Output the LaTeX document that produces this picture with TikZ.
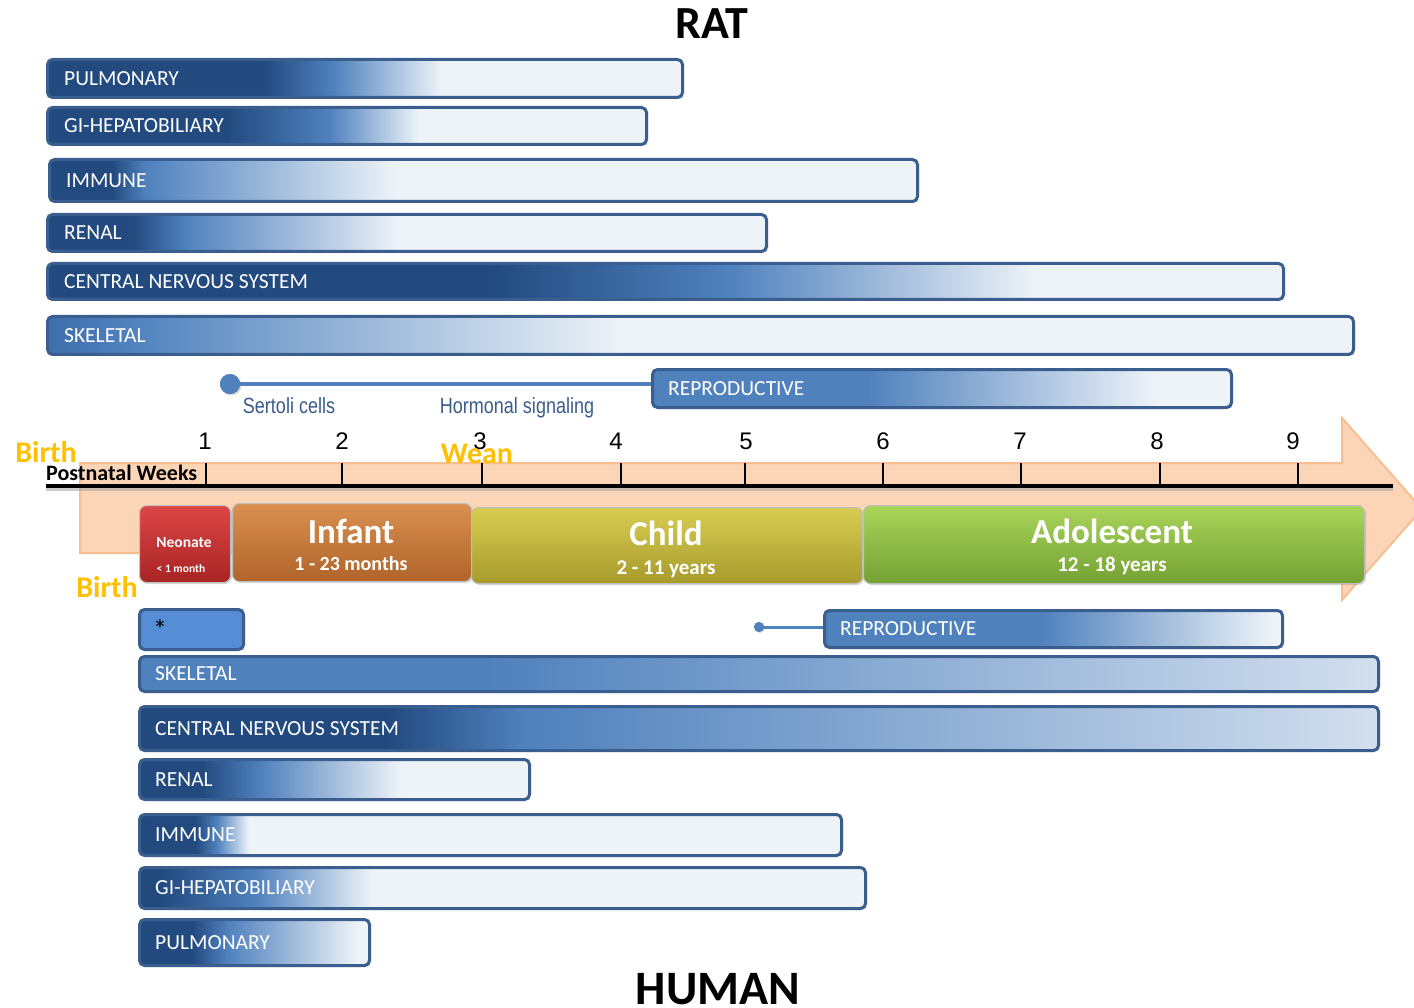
\documentclass[tikz,border=0pt]{standalone}
\usepackage{fontspec}
\setmainfont{Carlito}
\newfontfamily\arialf{Liberation Sans}
\newfontfamily\narrowf[FakeStretch=0.82]{Liberation Sans}
\usetikzlibrary{shadows,calc}
\definecolor{bdk}{HTML}{224A7F}
\definecolor{bmd}{HTML}{4F81BD}
\definecolor{blt}{HTML}{EEF3F8}
\definecolor{blt2}{HTML}{D3DFEE}
\definecolor{bsk}{HTML}{3E6DAA}
\definecolor{bbd}{HTML}{3A5F8F}
\definecolor{star}{HTML}{558ED5}
\definecolor{capt}{HTML}{3A5C8C}
\definecolor{birth}{HTML}{FFC000}
\definecolor{peach}{HTML}{FBD5B5}
\definecolor{peachbd}{HTML}{F8BE90}
\definecolor{neoTop}{HTML}{DC4646}
\definecolor{neoMid}{HTML}{C83030}
\definecolor{neoBot}{HTML}{A82424}
\definecolor{infTop}{HTML}{DA9050}
\definecolor{infMid}{HTML}{C87838}
\definecolor{infBot}{HTML}{B0642A}
\definecolor{chiTop}{HTML}{D8CD52}
\definecolor{chiMid}{HTML}{C1B53A}
\definecolor{chiBot}{HTML}{A69B2C}
\definecolor{adoTop}{HTML}{A9D55A}
\definecolor{adoMid}{HTML}{8EBD45}
\definecolor{adoBot}{HTML}{74A133}
% rat shadings
\pgfdeclarehorizontalshading{rPul}{100bp}{color(0bp)=(bdk); color(42bp)=(bdk); color(47.5bp)=(bmd); color(56bp)=(blt); color(100bp)=(blt)}
\pgfdeclarehorizontalshading{rGI}{100bp}{color(0bp)=(bdk); color(40bp)=(bdk); color(48.5bp)=(bmd); color(56bp)=(blt); color(100bp)=(blt)}
\pgfdeclarehorizontalshading{rImm}{100bp}{color(0bp)=(bdk); color(28.6bp)=(bdk); color(30.5bp)=(bmd); color(45bp)=(blt); color(100bp)=(blt)}
\pgfdeclarehorizontalshading{rRen}{100bp}{color(0bp)=(bdk); color(31bp)=(bdk); color(34.5bp)=(bmd); color(49.5bp)=(blt); color(100bp)=(blt)}
\pgfdeclarehorizontalshading{rCNS}{100bp}{color(0bp)=(bdk); color(43bp)=(bdk); color(52.5bp)=(bmd); color(65bp)=(blt); color(100bp)=(blt)}
\pgfdeclarehorizontalshading{rSkel}{100bp}{color(0bp)=(bsk); color(25bp)=(bsk); color(28bp)=(bmd); color(47bp)=(blt); color(100bp)=(blt)}
\pgfdeclarehorizontalshading{rRep}{100bp}{color(0bp)=(bmd); color(43.5bp)=(bmd); color(68.5bp)=(blt); color(100bp)=(blt)}
% human shadings
\pgfdeclarehorizontalshading{hRep}{100bp}{color(0bp)=(bmd); color(48.5bp)=(bmd); color(74bp)=(blt); color(100bp)=(blt)}
\pgfdeclarehorizontalshading{hSkel}{100bp}{color(0bp)=(bmd); color(39bp)=(bmd); color(75bp)=(blt2); color(100bp)=(blt2)}
\pgfdeclarehorizontalshading{hCNS}{100bp}{color(0bp)=(bdk); color(35bp)=(bdk); color(40.5bp)=(bmd); color(75bp)=(blt2); color(100bp)=(blt2)}
\pgfdeclarehorizontalshading{hRen}{100bp}{color(0bp)=(bdk); color(33bp)=(bdk); color(40.5bp)=(bmd); color(58.5bp)=(blt); color(100bp)=(blt)}
\pgfdeclarehorizontalshading{hImm}{100bp}{color(0bp)=(bdk); color(29bp)=(bdk); color(30.5bp)=(bmd); color(32.8bp)=(blt); color(100bp)=(blt)}
\pgfdeclarehorizontalshading{hGI}{100bp}{color(0bp)=(bdk); color(26.5bp)=(bdk); color(33bp)=(bmd); color(41bp)=(blt); color(100bp)=(blt)}
\pgfdeclarehorizontalshading{hPul}{100bp}{color(0bp)=(bdk); color(36.5bp)=(bdk); color(44bp)=(bmd); color(72.5bp)=(blt); color(100bp)=(blt)}
\tikzset{
  orgbase/.style={draw=bbd, line width=3pt, rounded corners=5pt, inner sep=0pt,
    drop shadow={shadow xshift=1.5pt, shadow yshift=-1.5pt, opacity=0.25}},
  orgbox/.style={orgbase, shade},
  barlbl/.style={text=white, font=\fontsize{21.5}{24}\selectfont, inner sep=0pt},
  conn/.style={draw=bmd, line width=3.5pt},
  capt/.style={text=capt, font=\narrowf\fontsize{22}{24}\selectfont, inner sep=0pt},
  num/.style={font=\arialf\fontsize{24}{26}\selectfont, inner sep=0pt},
  birthlbl/.style={text=birth, font=\bfseries\fontsize{30}{32}\selectfont, inner sep=0pt},
  stage/.style={rounded corners=7pt, inner sep=0pt, draw=white!75!black, line width=1pt,
    drop shadow={shadow xshift=1.5pt, shadow yshift=-1.5pt, opacity=0.3}},
  stagebig/.style={text=white, font=\bfseries\fontsize{35}{38}\selectfont, inner sep=0pt},
  stagesub/.style={text=white, font=\bfseries\fontsize{21}{23}\selectfont, inner sep=0pt},
  title/.style={font=\bfseries\fontsize{46}{50}\selectfont, inner sep=0pt},
  tickln/.style={line width=1.2pt, draw=black},
}
\newcommand\orgbar[8]{% name, shading, x1, y1, x2, y2, label, label shift
  \pgfmathsetmacro\obw{#5-#3}\pgfmathsetmacro\obh{#6-#4}
  \node[orgbox, shading=#2, minimum width=\obw, minimum height=\obh, anchor=north west] (#1) at (#3,#4) {};
  \node[barlbl, anchor=west] (#1-t) at ([xshift=#8pt]#1.west) {#7};}
\begin{document}
\begin{tikzpicture}[x=1pt,y=-1pt]
\useasboundingbox (0,0) rectangle (1414,1008);
% titles
\node[title] (rat) at (712,24) {RAT};
\node[title, font=\bfseries\fontsize{48}{50}\selectfont, anchor=base] (human) at (718,1004) {HUMAN};
% rat bars
\orgbar{rPulB}{rPul}{46}{58}{681}{96}{PULMONARY}{18}
\orgbar{rGIB}{rGI}{46}{106}{645}{143}{GI-HEPATOBILIARY}{18}
\orgbar{rImmB}{rImm}{48}{158}{916}{200}{IMMUNE}{18}
\orgbar{rRenB}{rRen}{46}{213}{765}{250}{RENAL}{18}
\orgbar{rCNSB}{rCNS}{46}{262}{1282}{298}{CENTRAL NERVOUS SYSTEM}{18}
\orgbar{rSkelB}{rSkel}{46}{315}{1352}{353}{SKELETAL}{18}
\orgbar{rRepB}{rRep}{651}{368}{1230}{406}{REPRODUCTIVE}{17}
\node[circle, fill=bmd, minimum size=20pt, inner sep=0pt,
  drop shadow={shadow xshift=1.5pt, shadow yshift=-1.5pt, opacity=0.3}] (rdot) at (230,384) {};
\draw[conn] (rdot.center) -- (rdot -| rRepB.west);
\node[circle, fill=bmd, minimum size=20pt, inner sep=0pt] at (rdot) {};
\node[capt, anchor=base] (sert) at (289,413) {Sertoli cells};
\node[capt, anchor=base] (horm) at (517,413) {Hormonal signaling};
% arrow
\draw[fill=peach, draw=peachbd, line width=2pt, line join=miter]
  (80,463) -- (1342,463) -- (1342,418) -- (1422,509) -- (1342,600) -- (1342,553) -- (80,553) -- cycle;
% axis
\coordinate (axL) at (46,486);
\coordinate (axR) at (1393,486);
\draw[line width=4pt, black!35, opacity=0.6] ([yshift=-3pt]axL) -- ([yshift=-3pt]axR);
\draw[line width=4pt, black] (axL) -- (axR);
\foreach \i/\x/\xn in {1/206/205, 2/342/342, 3/482/480, 4/621/616, 5/745/746, 6/883/883, 7/1021/1020, 8/1160/1157, 9/1298/1293}{
  \coordinate (t\i) at (\x,486);
  \draw[tickln] (t\i) -- ++(0,-23);
  \node[num, anchor=base] (n\i) at (\xn,449) {\i};
}
\node[font=\bfseries\fontsize{22}{24}\selectfont, inner sep=0pt, anchor=base west] (pnw) at (46,480) {Postnatal Weeks};
\node[birthlbl, anchor=base] (birth1) at (46,462) {Birth};
\node[birthlbl, anchor=base] (wean) at (477,463) {Wean};
\node[birthlbl, anchor=base] (birth2) at (107,597) {Birth};
% stages
\node[stage, top color=neoTop, middle color=neoMid, bottom color=neoBot,
  minimum width=91, minimum height=77, anchor=north west] (neo) at (139,505) {};
\node[stage, top color=infTop, middle color=infMid, bottom color=infBot,
  minimum width=239, minimum height=78, anchor=north west] (inf) at (232,503) {};
\node[stage, top color=chiTop, middle color=chiMid, bottom color=chiBot,
  minimum width=391, minimum height=76, anchor=north west] (chi) at (471,507) {};
\node[stage, top color=adoTop, middle color=adoMid, bottom color=adoBot,
  minimum width=501, minimum height=78, anchor=north west] (ado) at (863,505) {};
\node[text=white, font=\bfseries\fontsize{15.5}{17}\selectfont, inner sep=0pt, anchor=base] (neoT) at (184,547) {Neonate};
\node[text=white, font=\bfseries\fontsize{11.5}{13}\selectfont, inner sep=0pt, anchor=base] (neoS) at (181,572) {< 1 month};
\node[stagebig, anchor=base] (infT) at (351,543) {Infant};
\node[stagesub, font=\bfseries\fontsize{20}{22}\selectfont, anchor=base] (infS) at (351,570) {1 - 23 months};
\node[stagebig, anchor=base] (chiT) at (666,545) {Child};
\node[stagesub, anchor=base] (chiS) at (666,574) {2 - 11 years};
\node[stagebig, anchor=base] (adoT) at (1112,543) {Adolescent};
\node[stagesub, anchor=base] (adoS) at (1112,571) {12 - 18 years};
% human bars
\node[orgbase, fill=star, minimum width=104, minimum height=40, anchor=north west] (hStar) at (138,608) {};
\node[inner sep=0pt, font=\fontsize{28}{30}\selectfont] (hStarT) at (160,630) {*};
\orgbar{hRepB}{hRep}{823}{609}{1281}{646}{REPRODUCTIVE}{17}
\node[circle, fill=bmd, minimum size=10pt, inner sep=0pt,
  drop shadow={shadow xshift=1pt, shadow yshift=-1pt, opacity=0.3}] (hdot) at (759,627) {};
\draw[conn, line width=3pt] (hdot.center) -- (hdot -| hRepB.west);
\node[circle, fill=bmd, minimum size=10pt, inner sep=0pt] at (hdot) {};
\orgbar{hSkelB}{hSkel}{138}{655}{1377}{690}{SKELETAL}{17}
\orgbar{hCNSB}{hCNS}{138}{705}{1377}{749}{CENTRAL NERVOUS SYSTEM}{17}
\orgbar{hRenB}{hRen}{138}{758}{528}{798}{RENAL}{17}
\orgbar{hImmB}{hImm}{138}{813}{840}{854}{IMMUNE}{17}
\orgbar{hGIB}{hGI}{138}{866}{864}{907}{GI-HEPATOBILIARY}{17}
\orgbar{hPulB}{hPul}{138}{918}{368}{964}{PULMONARY}{17}
\end{tikzpicture}
\end{document}
